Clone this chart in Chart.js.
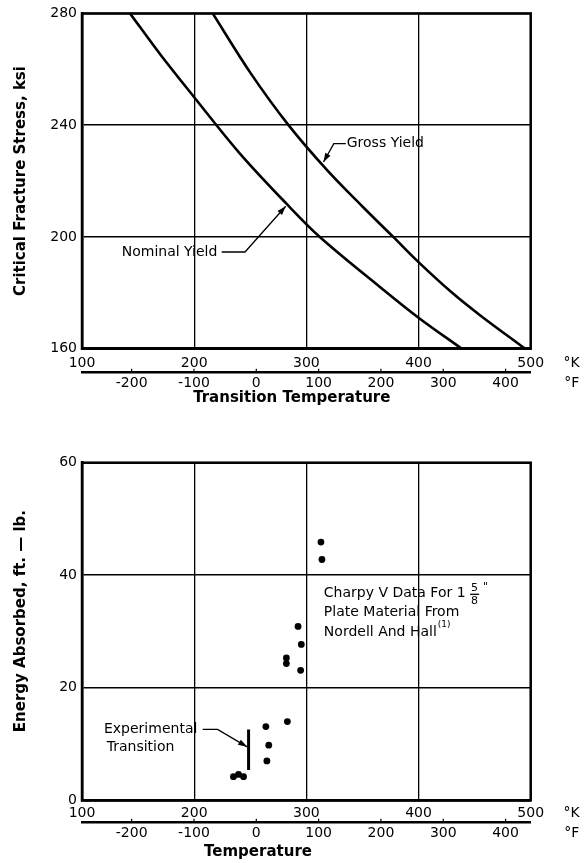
<!DOCTYPE html>
<html><head><meta charset="utf-8">
<script src="https://cdn.jsdelivr.net/npm/chart.js@4.4.1/dist/chart.umd.min.js"></script>
<style>
html,body{margin:0;padding:0;background:#fff;}
#wrap{position:relative;width:584px;height:863px;background:#fff;}
canvas{position:absolute;left:0;}
</style></head><body>
<div id="wrap">
<canvas id="c1" width="584" height="420" style="top:0px"></canvas>
<canvas id="c2" width="584" height="423" style="top:440px"></canvas>
</div>
<script>
// ---------- DATA ----------
// Top chart: critical fracture stress (ksi) vs transition temperature (°K)
const nominalK   = [142.8, 170, 200, 240, 282.5, 312, 365.6, 400, 438.5];
const nominalKsi = [280, 265.2, 250, 230.2, 211.8, 200, 182.1, 171.1, 160];
const grossK     = [216.5, 250, 284.1, 318.7, 350, 377.5, 400, 430, 454.8, 495];
const grossKsi   = [280, 258.8, 240, 223.8, 210.9, 200, 191.0, 180.0, 172.0, 160];

// Bottom chart: Charpy V energy absorbed (ft-lb) vs temperature (°K)
const charpyK      = [313.0, 313.9, 292.6, 295.5, 282.2, 282.2, 294.9, 283.1, 263.9, 266.5, 264.8, 235.0, 239.5, 244.0];
const charpyEnergy = [45.9, 42.8, 30.9, 27.7, 25.3, 24.3, 23.1, 14.0, 13.1, 9.8, 7.0, 4.2, 4.6, 4.2];
const transitionK      = [248.5, 248.5];
const transitionEnergy = [12.6, 5.4];

// Axis ranges / ticks
const kelvinRange = [100, 500];
const kelvinStep = 100;
const fahrenheitStep = 100;
const stressRange = [160, 280];
const stressStep = 40;
const energyRange = [0, 60];
const energyStep = 20;

// Text
const topYTitle = 'Critical Fracture Stress, ksi';
const topXTitle = 'Transition Temperature';
const botYTitle = 'Energy Absorbed, ft. \u2014 lb.';
const botXTitle = 'Temperature';

// ---------- helpers ----------
const kToF = k => (k - 273.15) * 1.8 + 32;
const pts = (xs, ys) => xs.map((x, i) => ({x: x, y: ys[i]}));
const FONT = "'DejaVu Sans', sans-serif";
Chart.defaults.font.family = FONT;
Chart.defaults.color = '#000';

function scales(yRange, yStep, yTitle, kPad, kHeight) {
  return {
    x: {
      type: 'linear', position: 'bottom', weight: 0,
      min: kelvinRange[0], max: kelvinRange[1],
      ticks: {stepSize: kelvinStep, padding: kPad, color: '#000', font: {size: 14}, maxRotation: 0, autoSkip: false},
      grid: {color: '#000', lineWidth: 1.3, drawTicks: false},
      border: {color: '#000', width: 2.5},
      afterFit: s => { s.height = kHeight; }
    },
    xF: {
      type: 'linear', position: 'bottom', weight: 1,
      min: kToF(kelvinRange[0]), max: kToF(kelvinRange[1]),
      afterBuildTicks: s => {
        const t = [];
        for (let v = Math.ceil(s.min / fahrenheitStep) * fahrenheitStep; v <= s.max + 1e-9; v += fahrenheitStep) t.push({value: v});
        s.ticks = t;
      },
      ticks: {stepSize: fahrenheitStep, padding: 1.9, color: '#000', font: {size: 14}, maxRotation: 0, autoSkip: false},
      grid: {drawOnChartArea: false, drawTicks: false, color: '#000'},
      border: {color: '#000', width: 2.5},
      afterFit: s => { s.height = 40; }
    },
    y: {
      type: 'linear', min: yRange[0], max: yRange[1],
      ticks: {stepSize: yStep, padding: 5, color: '#000', font: {size: 14}},
      grid: {color: '#000', lineWidth: 1.6, drawTicks: false},
      border: {color: '#000', width: 2.5},
      title: {display: true, text: yTitle, color: '#000', font: {size: 15, weight: 'bold'}, padding: {top: 12, bottom: 0}},
      afterFit: s => { s.width = 82; }
    }
  };
}

function arrow(ctx, P) {
  ctx.beginPath();
  ctx.moveTo(P[0][0], P[0][1]);
  for (let i = 1; i < P.length; i++) ctx.lineTo(P[i][0], P[i][1]);
  ctx.stroke();
  const [x1, y1] = P[P.length - 2], [x2, y2] = P[P.length - 1];
  const a = Math.atan2(y2 - y1, x2 - x1), L = 9, W = 3;
  ctx.beginPath();
  ctx.moveTo(x2, y2);
  ctx.lineTo(x2 - L * Math.cos(a) + W * Math.sin(a), y2 - L * Math.sin(a) - W * Math.cos(a));
  ctx.lineTo(x2 - L * Math.cos(a) - W * Math.sin(a), y2 - L * Math.sin(a) + W * Math.cos(a));
  ctx.closePath();
  ctx.fill();
}

const decor = {
  id: 'decor',
  afterDraw(chart, args, o) {
    const ctx = chart.ctx, a = chart.chartArea;
    const sx = chart.scales.x, sf = chart.scales.xF, sy = chart.scales.y;
    const X = v => sx.getPixelForValue(v), Y = v => sy.getPixelForValue(v);
    ctx.save();
    ctx.strokeStyle = '#000'; ctx.fillStyle = '#000';
    ctx.lineWidth = 2.5;
    ctx.strokeRect(a.left, a.top, a.right - a.left, a.bottom - a.top);
    // °F tick marks (upward from the °F axis line)
    ctx.lineWidth = 1.2;
    sf.ticks.forEach(t => {
      const px = sf.getPixelForValue(t.value);
      ctx.beginPath(); ctx.moveTo(px, sf.top); ctx.lineTo(px, sf.top - 4); ctx.stroke();
    });
    // unit labels
    ctx.font = '14px ' + FONT; ctx.textAlign = 'center'; ctx.textBaseline = 'middle';
    ctx.fillText('\u00B0K', a.right + 41, sx.top + sx.options.ticks.padding + 8.4);
    ctx.fillText('\u00B0F', a.right + 41, sf.top + sf.options.ticks.padding + 8.4);
    // x title
    ctx.font = 'bold 15px ' + FONT;
    ctx.fillText(o.xTitle, X(o.xTitleAt), sf.top + o.xTitleOffset);
    // annotations
    ctx.font = '14px ' + FONT; ctx.textAlign = 'left';
    ctx.lineWidth = 1.3;
    (o.labels || []).forEach(l => ctx.fillText(l.text, X(l.at[0]), Y(l.at[1])));
    (o.arrows || []).forEach(ar => arrow(ctx, ar.map(p => [X(p[0]), Y(p[1])])));
    if (o.charpy) {
      const c = o.charpy;
      const x0 = X(c.x);
      const l1 = 'Charpy V Data For 1';
      const y1 = Y(c.lines[0]);
      ctx.fillText(l1, x0, y1);
      const w = ctx.measureText(l1).width;
      ctx.font = '11px ' + FONT; ctx.textAlign = 'center';
      const fx = x0 + w + 9;
      ctx.fillText('5', fx, y1 - 6);
      ctx.fillText('8', fx, y1 + 7);
      ctx.beginPath(); ctx.moveTo(fx - 4.5, y1 + 0.5); ctx.lineTo(fx + 4.5, y1 + 0.5); ctx.stroke();
      ctx.fillText('"', fx + 11, y1 - 7);
      ctx.font = '14px ' + FONT; ctx.textAlign = 'left';
      ctx.fillText('Plate Material From', x0, Y(c.lines[1]));
      const l3 = 'Nordell And Hall';
      const y3 = Y(c.lines[2]);
      ctx.fillText(l3, x0, y3);
      const w3 = ctx.measureText(l3).width;
      ctx.font = '9px ' + FONT;
      ctx.fillText('(1)', x0 + w3 + 1, y3 - 7);
    }
    ctx.restore();
  }
};

const common = {
  responsive: false, animation: false,
  plugins: {legend: {display: false}, tooltip: {enabled: false}},
};

const curveStyle = {borderColor: '#000', borderWidth: 2.6, pointRadius: 0, tension: 0.35, xAxisID: 'x', yAxisID: 'y'};

new Chart(document.getElementById('c1'), {
  type: 'line',
  data: {datasets: [
    Object.assign({data: pts(nominalK, nominalKsi)}, curveStyle),
    Object.assign({data: pts(grossK, grossKsi)}, curveStyle)
  ]},
  options: Object.assign({}, common, {
    layout: {padding: {top: 12.7, right: 53.3, bottom: 7.3, left: 0}},
    scales: scales(stressRange, stressStep, topYTitle, 5.9, 24),
    plugins: Object.assign({}, common.plugins, {decor: {
      xTitle: topXTitle, xTitleAt: 287, xTitleOffset: 25.6,
      labels: [
        {text: 'Nominal Yield', at: [135.4, 194.6]},
        {text: 'Gross Yield', at: [336.0, 233.4]}
      ],
      arrows: [
        [[224.5, 194.6], [245.3, 194.6], [281.6, 211.0]],
        [[335.2, 233.4], [324.5, 233.4], [315.3, 226.8]]
      ]
    }})
  }),
  plugins: [decor]
});

const botScales = scales(energyRange, energyStep, '    ' + botYTitle, 4.3, 22.4);

new Chart(document.getElementById('c2'), {
  type: 'line',
  data: {datasets: [
    {data: pts(charpyK, charpyEnergy), showLine: false, pointRadius: 3.4, pointBackgroundColor: '#000', pointBorderWidth: 0, borderColor: '#000', xAxisID: 'x', yAxisID: 'y'},
    {data: pts(transitionK, transitionEnergy), borderColor: '#000', borderWidth: 3, pointRadius: 0, xAxisID: 'x', yAxisID: 'y'}
  ]},
  options: Object.assign({}, common, {
    layout: {padding: {top: 22.7, right: 53.3, bottom: 0.3, left: 0}},
    scales: botScales,
    plugins: Object.assign({}, common.plugins, {decor: {
      xTitle: botXTitle, xTitleAt: 256.9, xTitleOffset: 29,
      labels: [
        {text: 'Experimental', at: [119.6, 12.6]},
        {text: 'Transition', at: [122.0, 9.4]}
      ],
      arrows: [
        [[207.6, 12.6], [220.9, 12.6], [247.2, 9.5]]
      ],
      charpy: {x: 315.6, lines: [36.7, 33.4, 29.9]}
    }})
  }),
  plugins: [decor]
});
</script>
</body></html>
